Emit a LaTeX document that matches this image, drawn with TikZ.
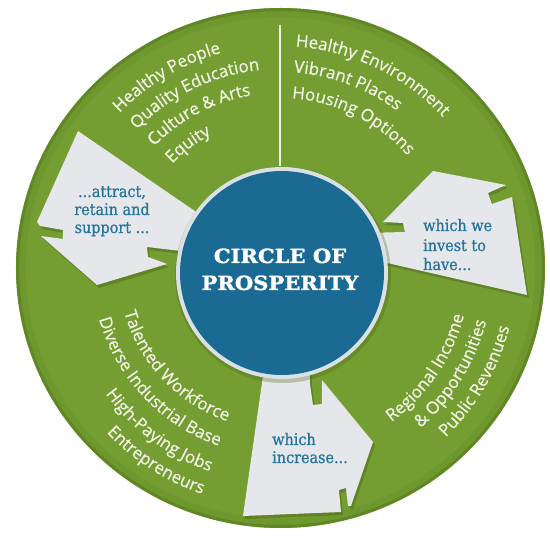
\documentclass[tikz,border=0pt]{standalone}
\usepackage{fontspec}
\usetikzlibrary{decorations.text}
\newfontfamily\gfont[FakeBold=0.6]{Open Sans}
\newfontfamily\afont[FakeStretch=0.9, FakeBold=0.8]{DejaVu Serif}
\newfontfamily\tfont[FakeStretch=1.08, BoldFeatures={FakeBold=1.6}]{DejaVu Serif}
\definecolor{gbg}{RGB}{116,158,50}
\definecolor{grim}{RGB}{90,128,32}
\definecolor{gshadow}{RGB}{70,100,22}
\definecolor{cblue}{RGB}{26,106,148}
\definecolor{cring}{RGB}{218,225,229}
\definecolor{agray}{RGB}{230,231,235}
\definecolor{tblue}{RGB}{36,116,158}
\definecolor{twhite}{RGB}{242,244,228}
\newcommand\gtext{\gfont\fontsize{17}{20}\selectfont\color{twhite}}
\newcommand\pathArrowLeft{(78,131) -- (205,218) -- (203,250) -- (181,251) -- (147,247) -- (148,257) -- (167,264) -- (97,285) -- (41,236) -- (63,239) -- (63,230) -- (40,226) -- (37,222) -- cycle}
\newcommand\pathArrowRight{(433,171) -- (506,185) -- (488,193) -- (492,204) -- (512,197) -- (527,295) -- (383,262) -- (365,258) -- (365,233) -- (405,232) -- (403,223) -- (383,222) -- cycle}
\newcommand\pathArrowBottom{(265,362) -- (310,362) -- (310,384) -- (313,405) -- (322,404) -- (322,380) -- (373,442) -- (351,506) -- (348,506) -- (346,488) -- (339,490) -- (341,512) -- (243,516) -- cycle}
\tikzset{
  arctextL/.style={decorate, decoration={text along path, text align=left, text={|\gtext|#1}}},
  arctextR/.style={decorate, decoration={text along path, text align=right, text={|\gtext|#1}}},
  arrowtext/.style={inner sep=0pt, text=tblue, font=\afont\fontsize{16}{19}\selectfont},
  titletext/.style={inner sep=0pt, text=white, font=\tfont\bfseries\fontsize{19.5}{24}\selectfont},
  arrowshadow/.style={fill=gshadow, opacity=0.45},
  arrowbody/.style={fill=agray}
}
\begin{document}
\begin{tikzpicture}[x=1pt,y=1pt]
\useasboundingbox (-280,-270) rectangle (270,268);
\fill[white] (-280,-270) rectangle (270,268);
% outer disc
\fill[gbg] (0.5,0) ellipse [x radius=264.5, y radius=260];
\draw[grim, line width=3, opacity=0.7] (0.5,0) ellipse [x radius=263, y radius=258.5];
\draw[grim, line width=8, opacity=0.2] (0.5,0) ellipse [x radius=259, y radius=254.5];
% arrows (pixel coordinates)
\begin{scope}[shift={(-280,268)}, yscale=-1]
  \fill[arrowshadow, shift={(2,3)}] \pathArrowLeft;
  \fill[arrowshadow, shift={(2,3)}] \pathArrowRight;
  \fill[arrowshadow, shift={(2,3)}] \pathArrowBottom;
  \fill[arrowbody] \pathArrowLeft;
  \fill[arrowbody] \pathArrowRight;
  \fill[arrowbody] \pathArrowBottom;
\end{scope}
% divider line
\draw[twhite, line width=1.3] (0,243) -- (0,102);
% centre circle
\fill[gshadow, opacity=0.3] (3,-7) circle[radius=108];
\fill[cring] (2,-5) circle[radius=106];
\fill[cblue] (2,-5) circle[radius=102];
\node[titletext, anchor=base] (title1) at (0,5) {CIRCLE OF};
\node[titletext, anchor=base] (title2) at (0,-22) {PROSPERITY};
% arrow texts
\node[arrowtext, anchor=base] (la1) at (-168,71) {...attract,};
\node[arrowtext, anchor=base] (la2) at (-168,53) {retain and};
\node[arrowtext, anchor=base] (la3) at (-168,35) {support ...};
\node[arrowtext, anchor=base west] (ra1) at (143,37) {which we};
\node[arrowtext, anchor=base west] (ra2) at (143,17) {invest to};
\node[arrowtext, anchor=base west] (ra3) at (143,-2) {have...};
\node[arrowtext, anchor=base west] (ba1) at (-8,-177) {which};
\node[arrowtext, anchor=base west] (ba2) at (-8,-195) {increase...};
% curved texts, top left
\path[arctextL={Healthy People}] (136:223) arc[start angle=136, end angle=40, radius=223];
\path[arctextL={Quality Education}] (136:199) arc[start angle=136, end angle=40, radius=199];
\path[arctextL={Culture {\&} Arts}] (136:175) arc[start angle=136, end angle=40, radius=175];
\path[arctextL={Equity}] (136:150) arc[start angle=136, end angle=40, radius=150];
% top right
\path[arctextL={Healthy Environment}] (86:222) arc[start angle=86, end angle=0, radius=222];
\path[arctextL={Vibrant Places}] (86:196) arc[start angle=86, end angle=0, radius=196];
\path[arctextL={Housing Options}] (86:170) arc[start angle=86, end angle=0, radius=170];
% bottom left
\path[arctextR={Talented Workforce}] (150:162) arc[start angle=150, end angle=251, radius=162];
\path[arctextR={Diverse Industrial Base}] (150:188) arc[start angle=150, end angle=251, radius=188];
\path[arctextR={High-Paying Jobs}] (150:215) arc[start angle=150, end angle=251, radius=215];
\path[arctextR={Entrepreneurs}] (150:239) arc[start angle=150, end angle=251, radius=239];
% right
\path[arctextR={Regional Income}] (-90:190) arc[start angle=-90, end angle=-14.5, radius=190];
\path[arctextR={{\&} Opportunities}] (-90:213) arc[start angle=-90, end angle=-14.5, radius=213];
\path[arctextR={Public Revenues}] (-90:237) arc[start angle=-90, end angle=-14.5, radius=237];
\end{tikzpicture}
\end{document}
